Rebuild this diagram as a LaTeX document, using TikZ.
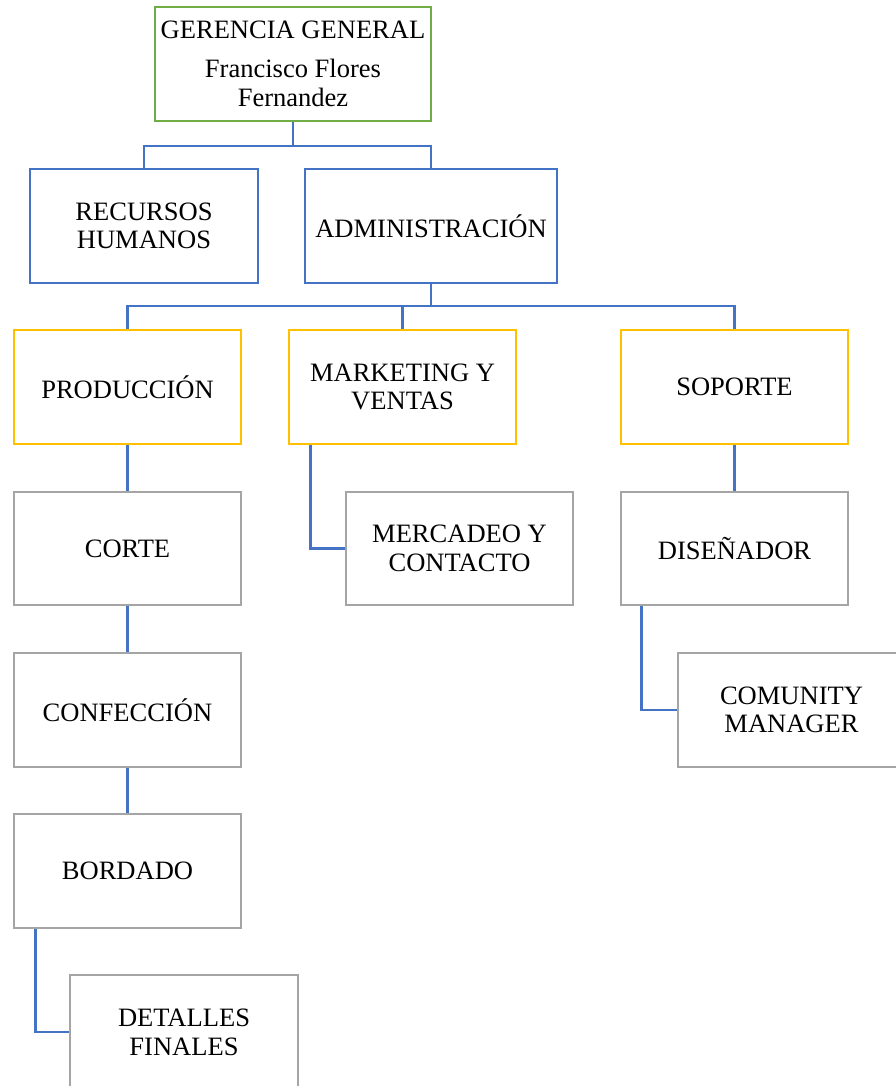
\documentclass[tikz,border=0pt]{standalone}
\usepackage{fontspec}
\setmainfont{Liberation Serif}
\definecolor{cgreen}{HTML}{70AD47}
\definecolor{cblue}{HTML}{4472C4}
\definecolor{cgold}{HTML}{FFC000}
\definecolor{cgray}{HTML}{A5A5A5}
\begin{document}
\begin{tikzpicture}[x=0.75pt,y=-0.75pt,
  box/.style={draw,line width=1.9pt,fill=white,align=center,inner sep=0pt,
    minimum width=227*0.75pt,minimum height=114*0.75pt,
    font=\fontsize{19.9}{21.5}\selectfont},
  gbox/.style={box,draw=cgreen},
  bbox/.style={box,draw=cblue},
  ybox/.style={box,draw=cgold},
  sbox/.style={box,draw=cgray},
  link/.style={draw=cblue,line width=2.2pt}]
\useasboundingbox (0,0) rectangle (896,1086);
\clip (0,0) rectangle (896,1086);
\fill[white] (0,0) rectangle (896,1086);

\coordinate (l1) at (293,146);
\coordinate (l2) at (431,306);

\node[gbox,minimum width=276*0.75pt] (ger) at (293,64) {GERENCIA GENERAL\\[8pt]Francisco Flores\\Fernandez};
\node[bbox,minimum width=228*0.75pt] (rh) at (144,226) {RECURSOS\\HUMANOS};
\node[bbox,minimum width=252*0.75pt] (adm) at (431,226) {ADMINISTRACIÓN};
\node[ybox] (prod) at (127.5,387) {PRODUCCIÓN};
\node[ybox] (mkt) at (402.5,387) {MARKETING Y\\VENTAS};
\node[ybox] (sop) at (734.5,387) {SOPORTE};
\node[sbox,minimum height=113*0.75pt] (corte) at (127.5,548.5) {CORTE};
\node[sbox,minimum height=113*0.75pt] (merc) at (459.5,548.5) {MERCADEO Y\\CONTACTO};
\node[sbox,minimum height=113*0.75pt] (dis) at (734.5,548.5) {DISEÑADOR};
\node[sbox] (conf) at (127.5,710) {CONFECCIÓN};
\node[sbox] (com) at (791.5,710) {COMUNITY\\MANAGER};
\node[sbox] (bord) at (127.5,871) {BORDADO};
\node[sbox,minimum width=228*0.75pt] (det) at (184,1032) {DETALLES\\FINALES};

\draw[link] (ger.south) -- (l1);
\draw[link] (l1) -| (rh.north);
\draw[link] (l1) -| (adm.north);
\draw[link] (adm.south) -- (l2);
\draw[link] (l2) -| (prod.north);
\draw[link] (l2) -| (mkt.north);
\draw[link] (l2) -| (sop.north);
\draw[link] (prod.south) -- (corte.north);
\draw[link] (corte.south) -- (conf.north);
\draw[link] (conf.south) -- (bord.north);
\draw[link] (sop.south) -- (dis.north);
\coordinate (m1) at ([xshift=23*0.75pt]mkt.south west);
\coordinate (d1) at ([xshift=22*0.75pt]dis.south west);
\coordinate (b1) at ([xshift=23*0.75pt]bord.south west);
\draw[link] (m1) |- (merc.west);
\draw[link] (d1) |- (com.west);
\draw[link] (b1) |- (det.west);
\end{tikzpicture}
\end{document}
